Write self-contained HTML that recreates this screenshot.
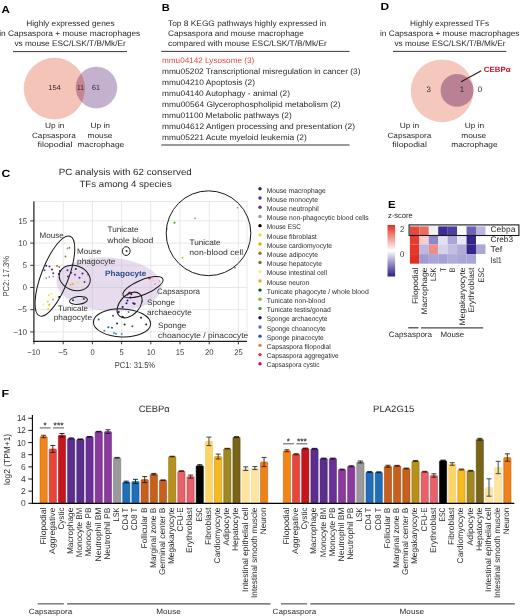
<!DOCTYPE html>
<html lang="en">
<head>
<meta charset="utf-8">
<title>Figure</title>
<style>
html,body{margin:0;padding:0;background:#fff;}
body{width:520px;height:616px;overflow:hidden;}
svg{display:block;font-family:"Liberation Sans",sans-serif;will-change:transform;text-rendering:geometricPrecision;}
</style>
</head>
<body>
<svg width="520" height="616" viewBox="0 0 520 616">
<rect width="520" height="616" fill="#fff"/>
<text x="1.5" y="12.6" font-size="10.3" textLength="8.3" lengthAdjust="spacingAndGlyphs" font-weight="bold" fill="#000">A</text>
<text x="161.7" y="10.8" font-size="10.3" textLength="8" lengthAdjust="spacingAndGlyphs" font-weight="bold" fill="#000">B</text>
<text x="380.4" y="9.8" font-size="10.3" textLength="8.6" lengthAdjust="spacingAndGlyphs" font-weight="bold" fill="#000">D</text>
<text x="1.6" y="177.1" font-size="10.3" textLength="8.7" lengthAdjust="spacingAndGlyphs" font-weight="bold" fill="#000">C</text>
<text x="388.0" y="207.6" font-size="10.3" textLength="7.6" lengthAdjust="spacingAndGlyphs" font-weight="bold" fill="#000">E</text>
<text x="1.5" y="396.6" font-size="10.3" textLength="7.6" lengthAdjust="spacingAndGlyphs" font-weight="bold" fill="#000">F</text>
<text x="70.4" y="26.2" font-size="8" text-anchor="middle" textLength="88.3" lengthAdjust="spacingAndGlyphs" fill="#2b2728">Highly expressed genes</text>
<text x="69.7" y="35.9" font-size="8" text-anchor="middle" textLength="141" lengthAdjust="spacingAndGlyphs" fill="#2b2728">in Capsaspora + mouse macrophages</text>
<text x="70.1" y="46.2" font-size="8" text-anchor="middle" textLength="111.3" lengthAdjust="spacingAndGlyphs" fill="#2b2728">vs mouse ESC/LSK/T/B/Mk/Er</text>
<line x1="13" y1="51.6" x2="127" y2="51.6" stroke="#231f20" stroke-width="0.9"/>
<circle cx="54.5" cy="88.6" r="30.5" fill="#f4c4b9" stroke="#efb7ab" stroke-width="0.5"/>
<circle cx="96.4" cy="87.5" r="20.5" fill="#c4b0cf" stroke="#b9a3c6" stroke-width="0.5"/>
<clipPath id="cA"><circle cx="54.5" cy="88.6" r="30.5"/></clipPath>
<circle cx="96.4" cy="87.5" r="20.5" fill="#c68592" clip-path="url(#cA)"/>
<text x="54.5" y="89.6" font-size="7.4" text-anchor="middle" textLength="12.5" lengthAdjust="spacingAndGlyphs" fill="#2b2728">154</text>
<text x="80.4" y="89.6" font-size="7.4" text-anchor="middle" textLength="6.9" lengthAdjust="spacingAndGlyphs" fill="#2b2728">11</text>
<text x="96" y="89.6" font-size="7.4" text-anchor="middle" textLength="8" lengthAdjust="spacingAndGlyphs" fill="#2b2728">61</text>
<text x="54.75" y="128" font-size="7.6" text-anchor="middle" textLength="19.5" lengthAdjust="spacingAndGlyphs" fill="#2b2728">Up in</text>
<text x="53.9" y="138.1" font-size="7.6" text-anchor="middle" textLength="43.75" lengthAdjust="spacingAndGlyphs" fill="#2b2728">Capsaspora</text>
<text x="55" y="147.2" font-size="7.6" text-anchor="middle" textLength="35" lengthAdjust="spacingAndGlyphs" fill="#2b2728">filopodial</text>
<text x="100.25" y="128" font-size="7.6" text-anchor="middle" textLength="19.5" lengthAdjust="spacingAndGlyphs" fill="#2b2728">Up in</text>
<text x="100" y="138.1" font-size="7.6" text-anchor="middle" textLength="25" lengthAdjust="spacingAndGlyphs" fill="#2b2728">mouse</text>
<text x="100.9" y="147.2" font-size="7.6" text-anchor="middle" textLength="46.75" lengthAdjust="spacingAndGlyphs" fill="#2b2728">macrophage</text>
<text x="168" y="25.75" font-size="8" textLength="158.25" lengthAdjust="spacingAndGlyphs" fill="#2b2728">Top 8 KEGG pathways highly expressed in</text>
<text x="168" y="35.75" font-size="8" textLength="135.75" lengthAdjust="spacingAndGlyphs" fill="#2b2728">Capsaspora and mouse macrophage</text>
<text x="168" y="46" font-size="8" textLength="158.75" lengthAdjust="spacingAndGlyphs" fill="#2b2728">compared with mouse ESC/LSK/T/B/Mk/Er</text>
<line x1="161.25" y1="51.4" x2="349.5" y2="51.4" stroke="#231f20" stroke-width="0.9"/>
<text x="162" y="63.0" font-size="8" textLength="92.25" lengthAdjust="spacingAndGlyphs" fill="#e8483a">mmu04142 Lysosome (3)</text>
<text x="162" y="74.07" font-size="8" textLength="198.5" lengthAdjust="spacingAndGlyphs" fill="#2b2728">mmu05202 Transcriptional misregulation in cancer (3)</text>
<text x="162" y="85.14" font-size="8" textLength="93" lengthAdjust="spacingAndGlyphs" fill="#2b2728">mmu04210 Apoptosis (2)</text>
<text x="162" y="96.21" font-size="8" textLength="128" lengthAdjust="spacingAndGlyphs" fill="#2b2728">mmu04140 Autophagy - animal (2)</text>
<text x="162" y="107.28" font-size="8" textLength="178.5" lengthAdjust="spacingAndGlyphs" fill="#2b2728">mmu00564 Glycerophospholipid metabolism (2)</text>
<text x="162" y="118.35" font-size="8" textLength="129.75" lengthAdjust="spacingAndGlyphs" fill="#2b2728">mmu01100 Metabolic pathways (2)</text>
<text x="162" y="129.42" font-size="8" textLength="193" lengthAdjust="spacingAndGlyphs" fill="#2b2728">mmu04612 Antigen processing and presentation (2)</text>
<text x="162" y="140.49" font-size="8" textLength="144.75" lengthAdjust="spacingAndGlyphs" fill="#2b2728">mmu05221 Acute myeloid leukemia (2)</text>
<line x1="161.25" y1="145" x2="349.5" y2="145" stroke="#231f20" stroke-width="0.9"/>
<text x="449.6" y="25.75" font-size="8" text-anchor="middle" textLength="79.25" lengthAdjust="spacingAndGlyphs" fill="#2b2728">Highly expressed TFs</text>
<text x="449.75" y="35.75" font-size="8" text-anchor="middle" textLength="139.5" lengthAdjust="spacingAndGlyphs" fill="#2b2728">in Capsaspora + mouse macrophages</text>
<text x="450" y="46" font-size="8" text-anchor="middle" textLength="111" lengthAdjust="spacingAndGlyphs" fill="#2b2728">vs mouse ESC/LSK/T/B/Mk/Er</text>
<line x1="393" y1="51.4" x2="506.25" y2="51.4" stroke="#231f20" stroke-width="0.9"/>
<circle cx="442.2" cy="90.8" r="31.4" fill="#f5c8be"/>
<circle cx="457" cy="90.4" r="16.4" fill="#ba8194"/>
<line x1="461.1" y1="81.8" x2="481.25" y2="70.7" stroke="#231f20" stroke-width="1.1"/>
<text x="483.75" y="71.9" font-size="7.6" textLength="26.75" lengthAdjust="spacingAndGlyphs" font-weight="bold" fill="#c8102e">CEBPα</text>
<text x="428.75" y="92.2" font-size="7.9" text-anchor="middle" fill="#2b2728">3</text>
<text x="461.9" y="92.2" font-size="7.9" text-anchor="middle" fill="#2b2728">1</text>
<text x="480" y="92.2" font-size="7.9" text-anchor="middle" fill="#2b2728">0</text>
<text x="409.4" y="128" font-size="7.6" text-anchor="middle" textLength="19.5" lengthAdjust="spacingAndGlyphs" fill="#2b2728">Up in</text>
<text x="409.4" y="138.1" font-size="7.6" text-anchor="middle" textLength="43.75" lengthAdjust="spacingAndGlyphs" fill="#2b2728">Capsaspora</text>
<text x="409.6" y="147.4" font-size="7.6" text-anchor="middle" textLength="34.5" lengthAdjust="spacingAndGlyphs" fill="#2b2728">filopodial</text>
<text x="474.4" y="128" font-size="7.6" text-anchor="middle" textLength="19.5" lengthAdjust="spacingAndGlyphs" fill="#2b2728">Up in</text>
<text x="473.75" y="138.1" font-size="7.6" text-anchor="middle" textLength="25" lengthAdjust="spacingAndGlyphs" fill="#2b2728">mouse</text>
<text x="474.4" y="147.4" font-size="7.6" text-anchor="middle" textLength="46.25" lengthAdjust="spacingAndGlyphs" fill="#2b2728">macrophage</text>
<text x="125.25" y="174.5" font-size="9" text-anchor="middle" textLength="133" lengthAdjust="spacingAndGlyphs" fill="#2b2728">PC analysis with 62 conserved</text>
<text x="125.6" y="186.5" font-size="9" text-anchor="middle" textLength="92.25" lengthAdjust="spacingAndGlyphs" fill="#2b2728">TFs among 4 species</text>
<rect x="33.9" y="201.5" width="213.1" height="139.8" fill="#fff" stroke="#dedede" stroke-width="0.7"/>
<line x1="63.2" y1="201.5" x2="63.2" y2="341.3" stroke="#dedede" stroke-width="0.7"/>
<line x1="92.4" y1="201.5" x2="92.4" y2="341.3" stroke="#dedede" stroke-width="0.7"/>
<line x1="121.6" y1="201.5" x2="121.6" y2="341.3" stroke="#dedede" stroke-width="0.7"/>
<line x1="150.8" y1="201.5" x2="150.8" y2="341.3" stroke="#dedede" stroke-width="0.7"/>
<line x1="180.0" y1="201.5" x2="180.0" y2="341.3" stroke="#dedede" stroke-width="0.7"/>
<line x1="209.2" y1="201.5" x2="209.2" y2="341.3" stroke="#dedede" stroke-width="0.7"/>
<line x1="238.4" y1="201.5" x2="238.4" y2="341.3" stroke="#dedede" stroke-width="0.7"/>
<line x1="33.9" y1="331.9" x2="247.0" y2="331.9" stroke="#dedede" stroke-width="0.7"/>
<line x1="33.9" y1="309.7" x2="247.0" y2="309.7" stroke="#dedede" stroke-width="0.7"/>
<line x1="33.9" y1="287.5" x2="247.0" y2="287.5" stroke="#dedede" stroke-width="0.7"/>
<line x1="33.9" y1="265.3" x2="247.0" y2="265.3" stroke="#dedede" stroke-width="0.7"/>
<line x1="33.9" y1="243.1" x2="247.0" y2="243.1" stroke="#dedede" stroke-width="0.7"/>
<line x1="33.9" y1="220.9" x2="247.0" y2="220.9" stroke="#dedede" stroke-width="0.7"/>
<ellipse cx="109" cy="284.2" rx="52.6" ry="26.8" fill="#c9b0da" opacity="0.45" transform="rotate(3.5 109 284.2)"/>
<line x1="33.9" y1="201.5" x2="33.9" y2="341.90000000000003" stroke="#231f20" stroke-width="1.2"/>
<line x1="33.3" y1="341.3" x2="247.0" y2="341.3" stroke="#231f20" stroke-width="1.2"/>
<line x1="34.0" y1="341.3" x2="34.0" y2="344.3" stroke="#231f20" stroke-width="0.9"/>
<text x="33.7" y="354.5" font-size="8.2" text-anchor="middle" textLength="12.8" lengthAdjust="spacingAndGlyphs" fill="#3a3a3a">−10</text>
<line x1="63.2" y1="341.3" x2="63.2" y2="344.3" stroke="#231f20" stroke-width="0.9"/>
<text x="62.900000000000006" y="354.5" font-size="8.2" text-anchor="middle" textLength="9.5" lengthAdjust="spacingAndGlyphs" fill="#3a3a3a">−5</text>
<line x1="92.4" y1="341.3" x2="92.4" y2="344.3" stroke="#231f20" stroke-width="0.9"/>
<text x="92.5" y="354.5" font-size="8.2" text-anchor="middle" textLength="4.2" lengthAdjust="spacingAndGlyphs" fill="#3a3a3a">0</text>
<line x1="121.6" y1="341.3" x2="121.6" y2="344.3" stroke="#231f20" stroke-width="0.9"/>
<text x="121.69999999999999" y="354.5" font-size="8.2" text-anchor="middle" textLength="4.2" lengthAdjust="spacingAndGlyphs" fill="#3a3a3a">5</text>
<line x1="150.8" y1="341.3" x2="150.8" y2="344.3" stroke="#231f20" stroke-width="0.9"/>
<text x="150.9" y="354.5" font-size="8.2" text-anchor="middle" textLength="8.5" lengthAdjust="spacingAndGlyphs" fill="#3a3a3a">10</text>
<line x1="180.0" y1="341.3" x2="180.0" y2="344.3" stroke="#231f20" stroke-width="0.9"/>
<text x="180.1" y="354.5" font-size="8.2" text-anchor="middle" textLength="8.5" lengthAdjust="spacingAndGlyphs" fill="#3a3a3a">15</text>
<line x1="209.2" y1="341.3" x2="209.2" y2="344.3" stroke="#231f20" stroke-width="0.9"/>
<text x="209.29999999999998" y="354.5" font-size="8.2" text-anchor="middle" textLength="8.5" lengthAdjust="spacingAndGlyphs" fill="#3a3a3a">20</text>
<line x1="238.4" y1="341.3" x2="238.4" y2="344.3" stroke="#231f20" stroke-width="0.9"/>
<text x="238.5" y="354.5" font-size="8.2" text-anchor="middle" textLength="8.5" lengthAdjust="spacingAndGlyphs" fill="#3a3a3a">25</text>
<line x1="30.2" y1="331.9" x2="33.9" y2="331.9" stroke="#231f20" stroke-width="0.9"/>
<text x="27" y="334.5" font-size="8.2" text-anchor="end" textLength="13.8" lengthAdjust="spacingAndGlyphs" fill="#3a3a3a">−10</text>
<line x1="30.2" y1="309.7" x2="33.9" y2="309.7" stroke="#231f20" stroke-width="0.9"/>
<text x="27" y="312.3" font-size="8.2" text-anchor="end" textLength="9.5" lengthAdjust="spacingAndGlyphs" fill="#3a3a3a">−5</text>
<line x1="30.2" y1="287.5" x2="33.9" y2="287.5" stroke="#231f20" stroke-width="0.9"/>
<text x="27" y="290.1" font-size="8.2" text-anchor="end" textLength="4.2" lengthAdjust="spacingAndGlyphs" fill="#3a3a3a">0</text>
<line x1="30.2" y1="265.3" x2="33.9" y2="265.3" stroke="#231f20" stroke-width="0.9"/>
<text x="27" y="267.90000000000003" font-size="8.2" text-anchor="end" textLength="4.2" lengthAdjust="spacingAndGlyphs" fill="#3a3a3a">5</text>
<line x1="30.2" y1="243.1" x2="33.9" y2="243.1" stroke="#231f20" stroke-width="0.9"/>
<text x="27" y="245.7" font-size="8.2" text-anchor="end" textLength="8.5" lengthAdjust="spacingAndGlyphs" fill="#3a3a3a">10</text>
<line x1="30.2" y1="220.9" x2="33.9" y2="220.9" stroke="#231f20" stroke-width="0.9"/>
<text x="27" y="223.5" font-size="8.2" text-anchor="end" textLength="8.5" lengthAdjust="spacingAndGlyphs" fill="#3a3a3a">15</text>
<text x="114.8" y="367.5" font-size="8.7" textLength="40.3" lengthAdjust="spacingAndGlyphs" fill="#3a3a3a">PC1: 31.5%</text>
<text x="9.4" y="276.25" font-size="8.7" text-anchor="middle" textLength="40.5" lengthAdjust="spacingAndGlyphs" fill="#3a3a3a" transform="rotate(-90 9.4 276.25)">PC2: 17.3%</text>
<circle cx="174.5" cy="222.75" r="1.08" fill="#4aa02c"/>
<circle cx="195" cy="218.25" r="0.99" fill="#a8b468"/>
<circle cx="166.75" cy="229" r="0.81" fill="#6b6b2a"/>
<circle cx="182.5" cy="257.75" r="0.99" fill="#b8c020"/>
<circle cx="237.5" cy="207.75" r="0.81" fill="#8a8a6a"/>
<circle cx="235" cy="267.75" r="0.9" fill="#8a8a5a"/>
<circle cx="67.5" cy="248.5" r="0.9" fill="#999"/>
<circle cx="69.5" cy="247.75" r="0.9" fill="#a07818"/>
<circle cx="65.5" cy="256.5" r="0.9" fill="#787828"/>
<circle cx="46.25" cy="265.75" r="0.99" fill="#3b1a6e"/>
<circle cx="49.5" cy="266.5" r="0.99" fill="#5a2a8a"/>
<circle cx="44.5" cy="270.25" r="0.99" fill="#6a2a9a"/>
<circle cx="52" cy="269.5" r="0.99" fill="#3b1a6e"/>
<circle cx="53.25" cy="273.25" r="0.99" fill="#5a2a8a"/>
<circle cx="49.25" cy="277" r="0.9" fill="#999"/>
<circle cx="53.25" cy="276.5" r="0.9" fill="#999"/>
<circle cx="46.25" cy="278.25" r="0.9" fill="#999"/>
<circle cx="57" cy="266" r="0.9" fill="#787828"/>
<circle cx="59.25" cy="267" r="0.9" fill="#a07818"/>
<circle cx="60" cy="271" r="0.99" fill="#1a1a60"/>
<circle cx="58.75" cy="274" r="0.9" fill="#3b1a6e"/>
<circle cx="67.5" cy="270.25" r="0.99" fill="#5a2a8a"/>
<circle cx="71.25" cy="272.75" r="0.99" fill="#6a2a9a"/>
<circle cx="75.75" cy="269" r="0.99" fill="#3b1a6e"/>
<circle cx="68" cy="276.5" r="0.99" fill="#5a2a8a"/>
<circle cx="75" cy="274.75" r="0.99" fill="#6a2a9a"/>
<circle cx="82.5" cy="273.5" r="0.99" fill="#3b1a6e"/>
<circle cx="79.5" cy="277.75" r="0.99" fill="#5a2a8a"/>
<circle cx="84.5" cy="282" r="0.99" fill="#6a2a9a"/>
<circle cx="88" cy="274.5" r="0.9" fill="#8a5ab0"/>
<circle cx="70.75" cy="284.5" r="0.99" fill="#f0a820"/>
<circle cx="73" cy="284" r="0.99" fill="#f0a820"/>
<circle cx="77.5" cy="282.75" r="0.99" fill="#f0e020"/>
<circle cx="81.25" cy="285.25" r="0.99" fill="#fbe890"/>
<circle cx="48.75" cy="295.25" r="0.99" fill="#f0e020"/>
<circle cx="51.25" cy="294" r="0.99" fill="#fbe890"/>
<circle cx="53" cy="299.5" r="0.99" fill="#e0b000"/>
<circle cx="47.5" cy="301.5" r="0.99" fill="#f0e020"/>
<circle cx="49.3" cy="304.7" r="0.99" fill="#e0b000"/>
<circle cx="43.3" cy="304.7" r="0.99" fill="#fbe890"/>
<circle cx="48.1" cy="309" r="0.99" fill="#f0e020"/>
<circle cx="59.25" cy="297" r="0.99" fill="#000"/>
<circle cx="73" cy="300.25" r="0.99" fill="#1a4a1a"/>
<circle cx="83.75" cy="299" r="0.99" fill="#1a4a1a"/>
<circle cx="126.6" cy="251.1" r="0.99" fill="#1a4a1a"/>
<circle cx="149.5" cy="278.25" r="1.17" fill="#e8303a"/>
<circle cx="155" cy="284" r="0.99" fill="#f4a0b0"/>
<circle cx="159.5" cy="281" r="0.99" fill="#f4a0b0"/>
<circle cx="152.5" cy="280.25" r="0.9" fill="#f8c0c8"/>
<circle cx="129.4" cy="292.7" r="1.17" fill="#c01840"/>
<circle cx="131.3" cy="294.2" r="1.08" fill="#3b1a6e"/>
<circle cx="127.5" cy="294.6" r="0.99" fill="#5a2a8a"/>
<circle cx="130.4" cy="297.5" r="0.99" fill="#1a1a60"/>
<circle cx="127.5" cy="300.4" r="0.99" fill="#1a1a60"/>
<circle cx="133.3" cy="303.3" r="1.08" fill="#3b1a6e"/>
<circle cx="134.6" cy="303.8" r="1.08" fill="#3b1a6e"/>
<circle cx="126.5" cy="303.3" r="0.99" fill="#1a1a60"/>
<circle cx="122.7" cy="307.1" r="0.99" fill="#1a1a60"/>
<circle cx="142" cy="301.3" r="0.9" fill="#4a7ab0"/>
<circle cx="128.5" cy="312" r="0.9" fill="#4a7ab0"/>
<circle cx="122.7" cy="316.7" r="0.99" fill="#1a1a60"/>
<circle cx="118.8" cy="312" r="0.99" fill="#1a1a60"/>
<circle cx="98.7" cy="319.6" r="0.99" fill="#2a5aa8"/>
<circle cx="113" cy="315.8" r="0.99" fill="#2a5aa8"/>
<circle cx="117" cy="323.5" r="0.99" fill="#1a1a60"/>
<circle cx="124.6" cy="324.4" r="0.99" fill="#1a1a60"/>
<circle cx="132.3" cy="326.3" r="0.99" fill="#2a5aa8"/>
<circle cx="141" cy="317.7" r="0.99" fill="#1a1a60"/>
<circle cx="146.2" cy="324.4" r="0.99" fill="#1a1a60"/>
<circle cx="108.3" cy="327.3" r="0.99" fill="#2a5aa8"/>
<circle cx="112" cy="327.7" r="0.99" fill="#2a5aa8"/>
<circle cx="104.4" cy="330.8" r="0.99" fill="#4a90d0"/>
<circle cx="114" cy="333" r="0.99" fill="#4a90d0"/>
<circle cx="116" cy="333.7" r="0.99" fill="#4a90d0"/>
<circle cx="121.7" cy="334" r="0.99" fill="#4a90d0"/>
<ellipse cx="54.9" cy="276.1" rx="13.6" ry="42.6" fill="none" stroke="#1a1a1a" stroke-width="1.0" transform="rotate(21 54.9 276.1)"/>
<ellipse cx="74.7" cy="278" rx="15.9" ry="12.2" fill="none" stroke="#1a1a1a" stroke-width="1.0" transform="rotate(20 74.7 278)"/>
<ellipse cx="78.5" cy="300.4" rx="9" ry="3.9" fill="none" stroke="#1a1a1a" stroke-width="1.0" transform="rotate(-6 78.5 300.4)"/>
<ellipse cx="126.2" cy="251.1" rx="3.9" ry="4.4" fill="none" stroke="#1a1a1a" stroke-width="1.0" transform="rotate(0 126.2 251.1)"/>
<ellipse cx="208.5" cy="233.25" rx="42.3" ry="42.4" fill="none" stroke="#1a1a1a" stroke-width="1.0" transform="rotate(0 208.5 233.25)"/>
<ellipse cx="143" cy="287.2" rx="21.5" ry="7.3" fill="none" stroke="#1a1a1a" stroke-width="1.0" transform="rotate(-22.5 143 287.2)"/>
<ellipse cx="129.6" cy="305" rx="15" ry="9.8" fill="none" stroke="#1a1a1a" stroke-width="1.0" transform="rotate(-47 129.6 305)"/>
<ellipse cx="122" cy="322.9" rx="28.6" ry="14" fill="none" stroke="#1a1a1a" stroke-width="1.0" transform="rotate(2 122 322.9)"/>
<text x="39.5" y="237.75" font-size="7.9" textLength="24.25" lengthAdjust="spacingAndGlyphs" fill="#333">Mouse</text>
<text x="77" y="254" font-size="7.9" textLength="24.25" lengthAdjust="spacingAndGlyphs" fill="#333">Mouse</text>
<text x="77" y="263.8" font-size="7.9" textLength="38.5" lengthAdjust="spacingAndGlyphs" fill="#333">phagocyte</text>
<text x="107.5" y="232.2" font-size="7.9" textLength="31" lengthAdjust="spacingAndGlyphs" fill="#333">Tunicate</text>
<text x="107.3" y="242.6" font-size="7.9" textLength="46" lengthAdjust="spacingAndGlyphs" fill="#333">whole blood</text>
<text x="189.5" y="245.25" font-size="7.9" textLength="31" lengthAdjust="spacingAndGlyphs" fill="#333">Tunicate</text>
<text x="189.25" y="255.25" font-size="7.9" textLength="54" lengthAdjust="spacingAndGlyphs" fill="#333">non-blood cell</text>
<text x="105" y="275.5" font-size="7.8" textLength="41.25" lengthAdjust="spacingAndGlyphs" font-weight="bold" fill="#2a4a8c">Phagocyte</text>
<text x="157" y="293.5" font-size="7.9" textLength="43" lengthAdjust="spacingAndGlyphs" fill="#333">Capsaspora</text>
<text x="147" y="305" font-size="7.9" textLength="28" lengthAdjust="spacingAndGlyphs" fill="#333">Sponge</text>
<text x="147" y="315.3" font-size="7.9" textLength="44.75" lengthAdjust="spacingAndGlyphs" fill="#333">archaeocyte</text>
<text x="158" y="328" font-size="7.9" textLength="28.25" lengthAdjust="spacingAndGlyphs" fill="#333">Sponge</text>
<text x="158" y="338.25" font-size="7.9" textLength="90.25" lengthAdjust="spacingAndGlyphs" fill="#333">choanocyte / pinacocyte</text>
<text x="58" y="311.25" font-size="7.9" textLength="30" lengthAdjust="spacingAndGlyphs" fill="#333">Tunicate</text>
<text x="53.75" y="319.7" font-size="7.9" textLength="38.25" lengthAdjust="spacingAndGlyphs" fill="#333">phagocyte</text>
<circle cx="260" cy="188.8" r="1.7" fill="#3b1a6e"/>
<text x="266.75" y="192.5" font-size="6.9" textLength="59" lengthAdjust="spacingAndGlyphs" fill="#2b2728">Mouse macrophage</text>
<circle cx="260" cy="198.01" r="1.7" fill="#5a2a8a"/>
<text x="266.75" y="201.71" font-size="6.9" textLength="51.25" lengthAdjust="spacingAndGlyphs" fill="#2b2728">Mouse monocyte</text>
<circle cx="260" cy="207.22" r="1.7" fill="#6a2a9a"/>
<text x="266.75" y="210.92" font-size="6.9" textLength="52" lengthAdjust="spacingAndGlyphs" fill="#2b2728">Mouse neutrophil</text>
<circle cx="260" cy="216.43" r="1.7" fill="#9a9a9a"/>
<text x="266.75" y="220.13" font-size="6.9" textLength="102" lengthAdjust="spacingAndGlyphs" fill="#2b2728">Mouse non-phagocytic blood cells</text>
<circle cx="260" cy="225.64" r="1.7" fill="#000"/>
<text x="266.75" y="229.34" font-size="6.9" textLength="34" lengthAdjust="spacingAndGlyphs" fill="#2b2728">Mouse ESC</text>
<circle cx="260" cy="234.85" r="1.7" fill="#f0e020"/>
<text x="266.75" y="238.55" font-size="6.9" textLength="50" lengthAdjust="spacingAndGlyphs" fill="#2b2728">Mouse fibroblast</text>
<circle cx="260" cy="244.06" r="1.7" fill="#e0b000"/>
<text x="266.75" y="247.76" font-size="6.9" textLength="65.25" lengthAdjust="spacingAndGlyphs" fill="#2b2728">Mouse cardiomyocyte</text>
<circle cx="260" cy="253.27" r="1.7" fill="#a07818"/>
<text x="266.75" y="256.97" font-size="6.9" textLength="51.25" lengthAdjust="spacingAndGlyphs" fill="#2b2728">Mouse adipocyte</text>
<circle cx="260" cy="262.48" r="1.7" fill="#787828"/>
<text x="266.75" y="266.18" font-size="6.9" textLength="55.25" lengthAdjust="spacingAndGlyphs" fill="#2b2728">Mouse hepatocyte</text>
<circle cx="260" cy="271.69" r="1.7" fill="#fbe890"/>
<text x="266.75" y="275.39" font-size="6.9" textLength="60.25" lengthAdjust="spacingAndGlyphs" fill="#2b2728">Mouse intestinal cell</text>
<circle cx="260" cy="280.9" r="1.7" fill="#f0a820"/>
<text x="266.75" y="284.6" font-size="6.9" textLength="42.5" lengthAdjust="spacingAndGlyphs" fill="#2b2728">Mouse neuron</text>
<circle cx="260" cy="290.11" r="1.7" fill="#1a4a1a"/>
<text x="266.75" y="293.81" font-size="6.9" textLength="102" lengthAdjust="spacingAndGlyphs" fill="#2b2728">Tunicate phagocyte / whole blood</text>
<circle cx="260" cy="299.32" r="1.7" fill="#9ab040"/>
<text x="266.75" y="303.02" font-size="6.9" textLength="58.25" lengthAdjust="spacingAndGlyphs" fill="#2b2728">Tunicate non-blood</text>
<circle cx="260" cy="308.53" r="1.7" fill="#4aa040"/>
<text x="266.75" y="312.23" font-size="6.9" textLength="64" lengthAdjust="spacingAndGlyphs" fill="#2b2728">Tunicate testis/gonad</text>
<circle cx="260" cy="317.74" r="1.7" fill="#1a1a60"/>
<text x="266.75" y="321.44" font-size="6.9" textLength="60.75" lengthAdjust="spacingAndGlyphs" fill="#2b2728">Sponge archaeocyte</text>
<circle cx="260" cy="326.95" r="1.7" fill="#4a7ab0"/>
<text x="266.75" y="330.65" font-size="6.9" textLength="59" lengthAdjust="spacingAndGlyphs" fill="#2b2728">Sponge choanocyte</text>
<circle cx="260" cy="336.16" r="1.7" fill="#2a5aa8"/>
<text x="266.75" y="339.86" font-size="6.9" textLength="57" lengthAdjust="spacingAndGlyphs" fill="#2b2728">Sponge pinacocyte</text>
<circle cx="260" cy="345.37" r="1.7" fill="#f07838"/>
<text x="266.75" y="349.07" font-size="6.9" textLength="64" lengthAdjust="spacingAndGlyphs" fill="#2b2728">Capsaspora filopodial</text>
<circle cx="260" cy="354.58" r="1.7" fill="#e8303a"/>
<text x="266.75" y="358.28" font-size="6.9" textLength="72" lengthAdjust="spacingAndGlyphs" fill="#2b2728">Capsaspora aggregative</text>
<circle cx="260" cy="363.79" r="1.7" fill="#c01840"/>
<text x="266.75" y="367.49" font-size="6.9" textLength="52.75" lengthAdjust="spacingAndGlyphs" fill="#2b2728">Capsaspora cystic</text>
<text x="388" y="217.6" font-size="7.8" textLength="24.8" lengthAdjust="spacingAndGlyphs" fill="#2b2728">z-score</text>
<defs><linearGradient id="cb" x1="0" y1="0" x2="0" y2="1"><stop offset="0" stop-color="#e3301f"/><stop offset="0.5" stop-color="#ffffff"/><stop offset="1" stop-color="#2f1d86"/></linearGradient></defs>
<rect x="387.5" y="225" width="7.6" height="51.5" fill="url(#cb)"/>
<text x="400.1" y="232" font-size="8.4" textLength="4.3" lengthAdjust="spacingAndGlyphs" fill="#2b2728">2</text>
<text x="400.1" y="256.5" font-size="8.4" textLength="4.3" lengthAdjust="spacingAndGlyphs" fill="#2b2728">0</text>
<rect x="409.9" y="226.4" width="9.49" height="8.6" fill="#e5483f"/>
<rect x="419.34" y="226.4" width="9.49" height="8.6" fill="#ea6a60"/>
<rect x="428.78" y="226.4" width="9.49" height="8.6" fill="#f3eff6"/>
<rect x="438.22" y="226.4" width="9.49" height="8.6" fill="#3b2d93"/>
<rect x="447.66" y="226.4" width="9.49" height="8.6" fill="#4c3fa0"/>
<rect x="457.1" y="226.4" width="9.49" height="8.6" fill="#fbfafd"/>
<rect x="466.54" y="226.4" width="9.49" height="8.6" fill="#6d63b5"/>
<rect x="475.98" y="226.4" width="9.49" height="8.6" fill="#bbb6dd"/>
<rect x="409.9" y="235.7" width="9.49" height="8.7" fill="#e43b33"/>
<rect x="419.34" y="235.7" width="9.49" height="8.7" fill="#f5cfd0"/>
<rect x="428.78" y="235.7" width="9.49" height="8.7" fill="#8b87c8"/>
<rect x="438.22" y="235.7" width="9.49" height="8.7" fill="#e3e1f1"/>
<rect x="447.66" y="235.7" width="9.49" height="8.7" fill="#a9a5d8"/>
<rect x="457.1" y="235.7" width="9.49" height="8.7" fill="#e9e7f4"/>
<rect x="466.54" y="235.7" width="9.49" height="8.7" fill="#35258a"/>
<rect x="475.98" y="235.7" width="9.49" height="8.7" fill="#ffffff"/>
<rect x="409.9" y="244.4" width="9.49" height="9.7" fill="#e3362d"/>
<rect x="419.34" y="244.4" width="9.49" height="9.7" fill="#bcb8e0"/>
<rect x="428.78" y="244.4" width="9.49" height="9.7" fill="#ef8d88"/>
<rect x="438.22" y="244.4" width="9.49" height="9.7" fill="#d5d2eb"/>
<rect x="447.66" y="244.4" width="9.49" height="9.7" fill="#c2bee2"/>
<rect x="457.1" y="244.4" width="9.49" height="9.7" fill="#b0abd9"/>
<rect x="466.54" y="244.4" width="9.49" height="9.7" fill="#35258a"/>
<rect x="475.98" y="244.4" width="9.49" height="9.7" fill="#aaa6d8"/>
<rect x="409.9" y="254.1" width="9.49" height="9.6" fill="#e2301f"/>
<rect x="419.34" y="254.1" width="9.49" height="9.6" fill="#a09bd3"/>
<rect x="428.78" y="254.1" width="9.49" height="9.6" fill="#a9a5d8"/>
<rect x="438.22" y="254.1" width="9.49" height="9.6" fill="#a5a1d6"/>
<rect x="447.66" y="254.1" width="9.49" height="9.6" fill="#b0acd9"/>
<rect x="457.1" y="254.1" width="9.49" height="9.6" fill="#a9a5d8"/>
<rect x="466.54" y="254.1" width="9.49" height="9.6" fill="#a9a5d8"/>
<rect x="475.98" y="254.1" width="9.49" height="9.6" fill="#ffffff"/>
<rect x="409.1" y="224.9" width="109.8" height="10.6" fill="none" stroke="#1a1a1a" stroke-width="1.1"/>
<text x="490.5" y="232.4" font-size="8.2" textLength="25" lengthAdjust="spacingAndGlyphs" fill="#2b2728">Cebpa</text>
<text x="490.5" y="242.4" font-size="8.2" textLength="22.6" lengthAdjust="spacingAndGlyphs" fill="#2b2728">Creb3</text>
<text x="490.5" y="252.1" font-size="8.2" textLength="11.7" lengthAdjust="spacingAndGlyphs" fill="#2b2728">Tef</text>
<text x="490.5" y="262.8" font-size="8.2" textLength="11.3" lengthAdjust="spacingAndGlyphs" fill="#2b2728">Isl1</text>
<text x="417.52" y="267.6" font-size="8.1" text-anchor="end" textLength="36.5" lengthAdjust="spacingAndGlyphs" fill="#2b2728" transform="rotate(-90 417.52 267.6)">Filopodial</text>
<text x="426.96" y="267.6" font-size="8.1" text-anchor="end" textLength="47" lengthAdjust="spacingAndGlyphs" fill="#2b2728" transform="rotate(-90 426.96 267.6)">Macrophage</text>
<text x="436.4" y="267.6" font-size="8.1" text-anchor="end" textLength="13.5" lengthAdjust="spacingAndGlyphs" fill="#2b2728" transform="rotate(-90 436.4 267.6)">LSK</text>
<text x="445.84" y="267.6" font-size="8.1" text-anchor="end" textLength="4.2" lengthAdjust="spacingAndGlyphs" fill="#2b2728" transform="rotate(-90 445.84 267.6)">T</text>
<text x="455.28" y="267.6" font-size="8.1" text-anchor="end" textLength="4.7" lengthAdjust="spacingAndGlyphs" fill="#2b2728" transform="rotate(-90 455.28 267.6)">B</text>
<text x="464.72" y="267.6" font-size="8.1" text-anchor="end" textLength="57.8" lengthAdjust="spacingAndGlyphs" fill="#2b2728" transform="rotate(-90 464.72 267.6)">Megakaryocyte</text>
<text x="474.16" y="267.6" font-size="8.1" text-anchor="end" textLength="45" lengthAdjust="spacingAndGlyphs" fill="#2b2728" transform="rotate(-90 474.16 267.6)">Erythroblast</text>
<text x="483.6" y="267.6" font-size="8.1" text-anchor="end" textLength="14.8" lengthAdjust="spacingAndGlyphs" fill="#2b2728" transform="rotate(-90 483.6 267.6)">ESC</text>
<line x1="408.2" y1="327.8" x2="418.5" y2="327.8" stroke="#4a4a4a" stroke-width="1.3"/>
<line x1="421" y1="327.8" x2="483.2" y2="327.8" stroke="#4a4a4a" stroke-width="1.3"/>
<text x="388.8" y="336.6" font-size="7.8" textLength="43.2" lengthAdjust="spacingAndGlyphs" fill="#2b2728">Capsaspora</text>
<text x="440.5" y="336.6" font-size="7.8" textLength="23.7" lengthAdjust="spacingAndGlyphs" fill="#2b2728">Mouse</text>
<path d="M40.0 503.3V437.48q0 -1 1 -1h5.25q1 0 1 1V503.3z" fill="#f28518" stroke="#ae5f11" stroke-width="0.5"/>
<path d="M43.62 435.27V437.69M41.12 435.27h5M41.12 437.69h5" stroke="#3c2106" stroke-width="0.9" fill="none"/>
<text x="45.52" y="507.6" font-size="8.3" text-anchor="end" textLength="36.8" lengthAdjust="spacingAndGlyphs" fill="#2b2728" transform="rotate(-90 45.52 507.6)">Filopodial</text>
<path d="M49.19 503.3V449.93q0 -1 1 -1h5.25q1 0 1 1V503.3z" fill="#e8463c" stroke="#a7322b" stroke-width="0.5"/>
<path d="M52.81 445.47V452.39M50.31 445.47h5M50.31 452.39h5" stroke="#3a110f" stroke-width="0.9" fill="none"/>
<text x="54.71" y="507.6" font-size="8.3" text-anchor="end" textLength="46.3" lengthAdjust="spacingAndGlyphs" fill="#2b2728" transform="rotate(-90 54.71 507.6)">Aggregative</text>
<path d="M58.37 503.3V436.26q0 -1 1 -1h5.25q1 0 1 1V503.3z" fill="#c4161c" stroke="#8d0f14" stroke-width="0.5"/>
<path d="M61.99 433.44V437.08M59.49 433.44h5M59.49 437.08h5" stroke="#310507" stroke-width="0.9" fill="none"/>
<text x="63.89" y="507.6" font-size="8.3" text-anchor="end" textLength="21.8" lengthAdjust="spacingAndGlyphs" fill="#2b2728" transform="rotate(-90 63.89 507.6)">Cystic</text>
<path d="M67.56 503.3V439.42q0 -1 1 -1h5.25q1 0 1 1V503.3z" fill="#5b2d8e" stroke="#412066" stroke-width="0.5"/>
<path d="M71.19 437.93V438.91M68.69 437.93h5M68.69 438.91h5" stroke="#160b23" stroke-width="0.9" fill="none"/>
<text x="73.09" y="507.6" font-size="8.3" text-anchor="end" textLength="46.5" lengthAdjust="spacingAndGlyphs" fill="#2b2728" transform="rotate(-90 73.09 507.6)">Macrophage</text>
<path d="M76.74 503.3V440.27q0 -1 1 -1h5.25q1 0 1 1V503.3z" fill="#5b2d8e" stroke="#412066" stroke-width="0.5"/>
<path d="M80.36 438.97V439.57M77.86 438.97h5M77.86 439.57h5" stroke="#160b23" stroke-width="0.9" fill="none"/>
<text x="82.26" y="507.6" font-size="8.3" text-anchor="end" textLength="49.7" lengthAdjust="spacingAndGlyphs" fill="#2b2728" transform="rotate(-90 82.26 507.6)">Monocyte BM</text>
<path d="M85.93 503.3V437.78q0 -1 1 -1h5.25q1 0 1 1V503.3z" fill="#6a3098" stroke="#4c226d" stroke-width="0.5"/>
<path d="M89.56 436.48V437.08M87.06 436.48h5M87.06 437.08h5" stroke="#1a0c26" stroke-width="0.9" fill="none"/>
<text x="91.46" y="507.6" font-size="8.3" text-anchor="end" textLength="48.9" lengthAdjust="spacingAndGlyphs" fill="#2b2728" transform="rotate(-90 91.46 507.6)">Monocyte PB</text>
<path d="M95.11 503.3V432.62q0 -1 1 -1h5.25q1 0 1 1V503.3z" fill="#8a3a9c" stroke="#632970" stroke-width="0.5"/>
<path d="M98.73 431.32V431.92M96.23 431.32h5M96.23 431.92h5" stroke="#220e27" stroke-width="0.9" fill="none"/>
<text x="100.63" y="507.6" font-size="8.3" text-anchor="end" textLength="53.8" lengthAdjust="spacingAndGlyphs" fill="#2b2728" transform="rotate(-90 100.63 507.6)">Neutrophil BM</text>
<path d="M104.3 503.3V432.62q0 -1 1 -1h5.25q1 0 1 1V503.3z" fill="#8a3a9c" stroke="#632970" stroke-width="0.5"/>
<path d="M107.92 429.8V433.44M105.42 429.8h5M105.42 433.44h5" stroke="#220e27" stroke-width="0.9" fill="none"/>
<text x="109.82" y="507.6" font-size="8.3" text-anchor="end" textLength="52.2" lengthAdjust="spacingAndGlyphs" fill="#2b2728" transform="rotate(-90 109.82 507.6)">Neutrophil PB</text>
<path d="M113.48 503.3V458.74q0 -1 1 -1h5.25q1 0 1 1V503.3z" fill="#9a9a9a" stroke="#6e6e6e" stroke-width="0.5"/>
<path d="M117.11 457.38V458.1M114.61 457.38h5M114.61 458.1h5" stroke="#262626" stroke-width="0.9" fill="none"/>
<text x="119.01" y="507.6" font-size="8.3" text-anchor="end" textLength="13.8" lengthAdjust="spacingAndGlyphs" fill="#2b2728" transform="rotate(-90 119.01 507.6)">LSK</text>
<path d="M122.67 503.3V483.04q0 -1 1 -1h5.25q1 0 1 1V503.3z" fill="#1f6fb8" stroke="#164f84" stroke-width="0.5"/>
<path d="M126.3 481.13V482.95M123.8 481.13h5M123.8 482.95h5" stroke="#071b2e" stroke-width="0.9" fill="none"/>
<text x="128.2" y="507.6" font-size="8.3" text-anchor="end" textLength="22.6" lengthAdjust="spacingAndGlyphs" fill="#2b2728" transform="rotate(-90 128.2 507.6)">CD4 T</text>
<path d="M131.85 503.3V482.43q0 -1 1 -1h5.25q1 0 1 1V503.3z" fill="#1f6fb8" stroke="#164f84" stroke-width="0.5"/>
<path d="M135.47 479.3V483.56M132.97 479.3h5M132.97 483.56h5" stroke="#071b2e" stroke-width="0.9" fill="none"/>
<text x="137.37" y="507.6" font-size="8.3" text-anchor="end" textLength="22.6" lengthAdjust="spacingAndGlyphs" fill="#2b2728" transform="rotate(-90 137.37 507.6)">CD8 T</text>
<path d="M141.04 503.3V480.61q0 -1 1 -1h5.25q1 0 1 1V503.3z" fill="#c8601c" stroke="#904514" stroke-width="0.5"/>
<path d="M144.66 476.57V482.65M142.16 476.57h5M142.16 482.65h5" stroke="#321807" stroke-width="0.9" fill="none"/>
<text x="146.56" y="507.6" font-size="8.3" text-anchor="end" textLength="40.8" lengthAdjust="spacingAndGlyphs" fill="#2b2728" transform="rotate(-90 146.56 507.6)">Follicular B</text>
<path d="M150.22 503.3V475.14q0 -1 1 -1h5.25q1 0 1 1V503.3z" fill="#c8601c" stroke="#904514" stroke-width="0.5"/>
<path d="M153.84 473.41V474.87M151.34 473.41h5M151.34 474.87h5" stroke="#321807" stroke-width="0.9" fill="none"/>
<text x="155.74" y="507.6" font-size="8.3" text-anchor="end" textLength="60.3" lengthAdjust="spacingAndGlyphs" fill="#2b2728" transform="rotate(-90 155.74 507.6)">Marginal zone B</text>
<path d="M159.41 503.3V481.22q0 -1 1 -1h5.25q1 0 1 1V503.3z" fill="#c8601c" stroke="#904514" stroke-width="0.5"/>
<path d="M163.03 479.92V480.52M160.53 479.92h5M160.53 480.52h5" stroke="#321807" stroke-width="0.9" fill="none"/>
<text x="164.93" y="507.6" font-size="8.3" text-anchor="end" textLength="67.3" lengthAdjust="spacingAndGlyphs" fill="#2b2728" transform="rotate(-90 164.93 507.6)">Germinal center B</text>
<path d="M168.59 503.3V457.52q0 -1 1 -1h5.25q1 0 1 1V503.3z" fill="#b8901c" stroke="#846714" stroke-width="0.5"/>
<path d="M172.22 456.22V456.82M169.72 456.22h5M169.72 456.82h5" stroke="#2e2407" stroke-width="0.9" fill="none"/>
<text x="174.12" y="507.6" font-size="8.3" text-anchor="end" textLength="56.5" lengthAdjust="spacingAndGlyphs" fill="#2b2728" transform="rotate(-90 174.12 507.6)">Megakaryocyte</text>
<path d="M177.78 503.3V472.1q0 -1 1 -1h5.25q1 0 1 1V503.3z" fill="#e8606a" stroke="#a7454c" stroke-width="0.5"/>
<path d="M181.41 470.8V471.4M178.91 470.8h5M178.91 471.4h5" stroke="#3a181a" stroke-width="0.9" fill="none"/>
<text x="183.31" y="507.6" font-size="8.3" text-anchor="end" textLength="23.9" lengthAdjust="spacingAndGlyphs" fill="#2b2728" transform="rotate(-90 183.31 507.6)">CFU-E</text>
<path d="M186.96 503.3V477.57q0 -1 1 -1h5.25q1 0 1 1V503.3z" fill="#e8606a" stroke="#a7454c" stroke-width="0.5"/>
<path d="M190.59 475.05V478.09M188.09 475.05h5M188.09 478.09h5" stroke="#3a181a" stroke-width="0.9" fill="none"/>
<text x="192.49" y="507.6" font-size="8.3" text-anchor="end" textLength="45.3" lengthAdjust="spacingAndGlyphs" fill="#2b2728" transform="rotate(-90 192.49 507.6)">Erythroblast</text>
<path d="M196.15 503.3V466.63q0 -1 1 -1h5.25q1 0 1 1V503.3z" fill="#000000" stroke="#000000" stroke-width="0.5"/>
<path d="M199.78 464.72V466.54M197.28 464.72h5M197.28 466.54h5" stroke="#000" stroke-width="0.9" fill="none"/>
<text x="201.68" y="507.6" font-size="8.3" text-anchor="end" textLength="13.9" lengthAdjust="spacingAndGlyphs" fill="#2b2728" transform="rotate(-90 201.68 507.6)">ESC</text>
<path d="M205.33 503.3V442.34q0 -1 1 -1h5.25q1 0 1 1V503.3z" fill="#fcd56a" stroke="#efca64" stroke-width="0.5"/>
<path d="M208.96 437.09V445.59M206.46 437.09h5M206.46 445.59h5" stroke="#3f351a" stroke-width="0.9" fill="none"/>
<text x="210.86" y="507.6" font-size="8.3" text-anchor="end" textLength="37.3" lengthAdjust="spacingAndGlyphs" fill="#2b2728" transform="rotate(-90 210.86 507.6)">Fibroblast</text>
<path d="M214.52 503.3V457.52q0 -1 1 -1h5.25q1 0 1 1V503.3z" fill="#f8b820" stroke="#b28417" stroke-width="0.5"/>
<path d="M218.15 454.09V458.95M215.65 454.09h5M215.65 458.95h5" stroke="#3e2e08" stroke-width="0.9" fill="none"/>
<text x="220.05" y="507.6" font-size="8.3" text-anchor="end" textLength="55.8" lengthAdjust="spacingAndGlyphs" fill="#2b2728" transform="rotate(-90 220.05 507.6)">Cardiomyocyte</text>
<path d="M223.7 503.3V449.62q0 -1 1 -1h5.25q1 0 1 1V503.3z" fill="#a08820" stroke="#736117" stroke-width="0.5"/>
<path d="M227.32 448.32V448.92M224.82 448.32h5M224.82 448.92h5" stroke="#282208" stroke-width="0.9" fill="none"/>
<text x="229.22" y="507.6" font-size="8.3" text-anchor="end" textLength="37.8" lengthAdjust="spacingAndGlyphs" fill="#2b2728" transform="rotate(-90 229.22 507.6)">Adipocyte</text>
<path d="M232.89 503.3V438.08q0 -1 1 -1h5.25q1 0 1 1V503.3z" fill="#7a6418" stroke="#574811" stroke-width="0.5"/>
<path d="M236.51 436.78V437.38M234.01 436.78h5M234.01 437.38h5" stroke="#1e1906" stroke-width="0.9" fill="none"/>
<text x="238.41" y="507.6" font-size="8.3" text-anchor="end" textLength="43.5" lengthAdjust="spacingAndGlyphs" fill="#2b2728" transform="rotate(-90 238.41 507.6)">Hepatocyte</text>
<path d="M242.07 503.3V469.67q0 -1 1 -1h5.25q1 0 1 1V503.3z" fill="#fde4a0" stroke="#f0d898" stroke-width="0.5"/>
<path d="M245.69 466.85V470.49M243.19 466.85h5M243.19 470.49h5" stroke="#2b3552" stroke-width="0.9" fill="none"/>
<text x="247.59" y="507.6" font-size="8.3" text-anchor="end" textLength="84.3" lengthAdjust="spacingAndGlyphs" fill="#2b2728" transform="rotate(-90 247.59 507.6)">Intestinal epithelial cell</text>
<path d="M251.26 503.3V469.06q0 -1 1 -1h5.25q1 0 1 1V503.3z" fill="#fde4a0" stroke="#f0d898" stroke-width="0.5"/>
<path d="M254.88 466.54V469.58M252.38 466.54h5M252.38 469.58h5" stroke="#2b3552" stroke-width="0.9" fill="none"/>
<text x="256.78" y="507.6" font-size="8.3" text-anchor="end" textLength="90.3" lengthAdjust="spacingAndGlyphs" fill="#2b2728" transform="rotate(-90 256.78 507.6)">Intestinal smooth muscle</text>
<path d="M260.44 503.3V462.99q0 -1 1 -1h5.25q1 0 1 1V503.3z" fill="#f08018" stroke="#ac5c11" stroke-width="0.5"/>
<path d="M264.06 457.43V466.55M261.56 457.43h5M261.56 466.55h5" stroke="#3c2006" stroke-width="0.9" fill="none"/>
<text x="265.96" y="507.6" font-size="8.3" text-anchor="end" textLength="26.6" lengthAdjust="spacingAndGlyphs" fill="#2b2728" transform="rotate(-90 265.96 507.6)">Neuron</text>
<line x1="39.75" y1="427.9" x2="50.6" y2="427.9" stroke="#666" stroke-width="1.1"/>
<line x1="53.1" y1="427.9" x2="64.1" y2="427.9" stroke="#666" stroke-width="1.1"/>
<text x="45.0" y="428.2" font-size="8" text-anchor="middle" font-weight="bold" fill="#3a3a3a">*</text>
<text x="58.6" y="428.2" font-size="8" text-anchor="middle" textLength="10" lengthAdjust="spacingAndGlyphs" font-weight="bold" fill="#3a3a3a">***</text>
<path d="M283.3 503.3V451.75q0 -1 1 -1h5.25q1 0 1 1V503.3z" fill="#f28518" stroke="#ae5f11" stroke-width="0.5"/>
<path d="M286.93 449.75V451.75M284.43 449.75h5M284.43 451.75h5" stroke="#3c2106" stroke-width="0.9" fill="none"/>
<text x="288.83" y="507.6" font-size="8.3" text-anchor="end" textLength="36.8" lengthAdjust="spacingAndGlyphs" fill="#2b2728" transform="rotate(-90 288.83 507.6)">Filopodial</text>
<path d="M292.49 503.3V455.25q0 -1 1 -1h5.25q1 0 1 1V503.3z" fill="#e8463c" stroke="#a7322b" stroke-width="0.5"/>
<path d="M296.12 453.75V454.75M293.62 453.75h5M293.62 454.75h5" stroke="#3a110f" stroke-width="0.9" fill="none"/>
<text x="298.02" y="507.6" font-size="8.3" text-anchor="end" textLength="46.3" lengthAdjust="spacingAndGlyphs" fill="#2b2728" transform="rotate(-90 298.02 507.6)">Aggregative</text>
<path d="M301.67 503.3V449.5q0 -1 1 -1h5.25q1 0 1 1V503.3z" fill="#c4161c" stroke="#8d0f14" stroke-width="0.5"/>
<path d="M305.3 448.1V448.9M302.8 448.1h5M302.8 448.9h5" stroke="#310507" stroke-width="0.9" fill="none"/>
<text x="307.2" y="507.6" font-size="8.3" text-anchor="end" textLength="21.8" lengthAdjust="spacingAndGlyphs" fill="#2b2728" transform="rotate(-90 307.2 507.6)">Cystic</text>
<path d="M310.86 503.3V449.75q0 -1 1 -1h5.25q1 0 1 1V503.3z" fill="#5b2d8e" stroke="#412066" stroke-width="0.5"/>
<path d="M314.49 448.35V449.15M311.99 448.35h5M311.99 449.15h5" stroke="#160b23" stroke-width="0.9" fill="none"/>
<text x="316.39" y="507.6" font-size="8.3" text-anchor="end" textLength="46.5" lengthAdjust="spacingAndGlyphs" fill="#2b2728" transform="rotate(-90 316.39 507.6)">Macrophage</text>
<path d="M320.04 503.3V459.5q0 -1 1 -1h5.25q1 0 1 1V503.3z" fill="#5b2d8e" stroke="#412066" stroke-width="0.5"/>
<path d="M323.67 458.1V458.9M321.17 458.1h5M321.17 458.9h5" stroke="#160b23" stroke-width="0.9" fill="none"/>
<text x="325.57" y="507.6" font-size="8.3" text-anchor="end" textLength="49.7" lengthAdjust="spacingAndGlyphs" fill="#2b2728" transform="rotate(-90 325.57 507.6)">Monocyte BM</text>
<path d="M329.23 503.3V459.5q0 -1 1 -1h5.25q1 0 1 1V503.3z" fill="#6a3098" stroke="#4c226d" stroke-width="0.5"/>
<path d="M332.86 458.1V458.9M330.36 458.1h5M330.36 458.9h5" stroke="#1a0c26" stroke-width="0.9" fill="none"/>
<text x="334.76" y="507.6" font-size="8.3" text-anchor="end" textLength="48.9" lengthAdjust="spacingAndGlyphs" fill="#2b2728" transform="rotate(-90 334.76 507.6)">Monocyte PB</text>
<path d="M338.41 503.3V470.5q0 -1 1 -1h5.25q1 0 1 1V503.3z" fill="#8a3a9c" stroke="#632970" stroke-width="0.5"/>
<path d="M342.04 469.1V469.9M339.54 469.1h5M339.54 469.9h5" stroke="#220e27" stroke-width="0.9" fill="none"/>
<text x="343.94" y="507.6" font-size="8.3" text-anchor="end" textLength="53.8" lengthAdjust="spacingAndGlyphs" fill="#2b2728" transform="rotate(-90 343.94 507.6)">Neutrophil BM</text>
<path d="M347.6 503.3V467.25q0 -1 1 -1h5.25q1 0 1 1V503.3z" fill="#8a3a9c" stroke="#632970" stroke-width="0.5"/>
<path d="M351.23 465.75V466.75M348.73 465.75h5M348.73 466.75h5" stroke="#220e27" stroke-width="0.9" fill="none"/>
<text x="353.13" y="507.6" font-size="8.3" text-anchor="end" textLength="52.2" lengthAdjust="spacingAndGlyphs" fill="#2b2728" transform="rotate(-90 353.13 507.6)">Neutrophil PB</text>
<path d="M356.78 503.3V463q0 -1 1 -1h5.25q1 0 1 1V503.3z" fill="#9a9a9a" stroke="#6e6e6e" stroke-width="0.5"/>
<path d="M360.4 461.0V463.0M357.9 461.0h5M357.9 463.0h5" stroke="#262626" stroke-width="0.9" fill="none"/>
<text x="362.3" y="507.6" font-size="8.3" text-anchor="end" textLength="13.8" lengthAdjust="spacingAndGlyphs" fill="#2b2728" transform="rotate(-90 362.3 507.6)">LSK</text>
<path d="M365.97 503.3V473q0 -1 1 -1h5.25q1 0 1 1V503.3z" fill="#1f6fb8" stroke="#164f84" stroke-width="0.5"/>
<path d="M369.6 471.6V472.4M367.1 471.6h5M367.1 472.4h5" stroke="#071b2e" stroke-width="0.9" fill="none"/>
<text x="371.5" y="507.6" font-size="8.3" text-anchor="end" textLength="22.6" lengthAdjust="spacingAndGlyphs" fill="#2b2728" transform="rotate(-90 371.5 507.6)">CD4 T</text>
<path d="M375.15 503.3V473.25q0 -1 1 -1h5.25q1 0 1 1V503.3z" fill="#1f6fb8" stroke="#164f84" stroke-width="0.5"/>
<path d="M378.77 471.85V472.65M376.27 471.85h5M376.27 472.65h5" stroke="#071b2e" stroke-width="0.9" fill="none"/>
<text x="380.67" y="507.6" font-size="8.3" text-anchor="end" textLength="22.6" lengthAdjust="spacingAndGlyphs" fill="#2b2728" transform="rotate(-90 380.67 507.6)">CD8 T</text>
<path d="M384.34 503.3V467.25q0 -1 1 -1h5.25q1 0 1 1V503.3z" fill="#c8601c" stroke="#904514" stroke-width="0.5"/>
<path d="M387.96 465.25V467.25M385.46 465.25h5M385.46 467.25h5" stroke="#321807" stroke-width="0.9" fill="none"/>
<text x="389.86" y="507.6" font-size="8.3" text-anchor="end" textLength="40.8" lengthAdjust="spacingAndGlyphs" fill="#2b2728" transform="rotate(-90 389.86 507.6)">Follicular B</text>
<path d="M393.52 503.3V466.75q0 -1 1 -1h5.25q1 0 1 1V503.3z" fill="#c8601c" stroke="#904514" stroke-width="0.5"/>
<path d="M397.14 465.35V466.15M394.64 465.35h5M394.64 466.15h5" stroke="#321807" stroke-width="0.9" fill="none"/>
<text x="399.04" y="507.6" font-size="8.3" text-anchor="end" textLength="60.3" lengthAdjust="spacingAndGlyphs" fill="#2b2728" transform="rotate(-90 399.04 507.6)">Marginal zone B</text>
<path d="M402.71 503.3V469.5q0 -1 1 -1h5.25q1 0 1 1V503.3z" fill="#c8601c" stroke="#904514" stroke-width="0.5"/>
<path d="M406.33 468.1V468.9M403.83 468.1h5M403.83 468.9h5" stroke="#321807" stroke-width="0.9" fill="none"/>
<text x="408.23" y="507.6" font-size="8.3" text-anchor="end" textLength="67.3" lengthAdjust="spacingAndGlyphs" fill="#2b2728" transform="rotate(-90 408.23 507.6)">Germinal center B</text>
<path d="M411.89 503.3V462q0 -1 1 -1h5.25q1 0 1 1V503.3z" fill="#b8901c" stroke="#846714" stroke-width="0.5"/>
<path d="M415.51 460.6V461.4M413.01 460.6h5M413.01 461.4h5" stroke="#2e2407" stroke-width="0.9" fill="none"/>
<text x="417.41" y="507.6" font-size="8.3" text-anchor="end" textLength="56.5" lengthAdjust="spacingAndGlyphs" fill="#2b2728" transform="rotate(-90 417.41 507.6)">Megakaryocyte</text>
<path d="M421.08 503.3V472.75q0 -1 1 -1h5.25q1 0 1 1V503.3z" fill="#e8606a" stroke="#a7454c" stroke-width="0.5"/>
<path d="M424.7 471.35V472.15M422.2 471.35h5M422.2 472.15h5" stroke="#3a181a" stroke-width="0.9" fill="none"/>
<text x="426.6" y="507.6" font-size="8.3" text-anchor="end" textLength="23.9" lengthAdjust="spacingAndGlyphs" fill="#2b2728" transform="rotate(-90 426.6 507.6)">CFU-E</text>
<path d="M430.26 503.3V476.5q0 -1 1 -1h5.25q1 0 1 1V503.3z" fill="#e8606a" stroke="#a7454c" stroke-width="0.5"/>
<path d="M433.88 473.8V477.2M431.38 473.8h5M431.38 477.2h5" stroke="#3a181a" stroke-width="0.9" fill="none"/>
<text x="435.78" y="507.6" font-size="8.3" text-anchor="end" textLength="45.3" lengthAdjust="spacingAndGlyphs" fill="#2b2728" transform="rotate(-90 435.78 507.6)">Erythroblast</text>
<path d="M439.45 503.3V461.75q0 -1 1 -1h5.25q1 0 1 1V503.3z" fill="#000000" stroke="#000000" stroke-width="0.5"/>
<path d="M443.07 460.15V461.35M440.57 460.15h5M440.57 461.35h5" stroke="#000" stroke-width="0.9" fill="none"/>
<text x="444.97" y="507.6" font-size="8.3" text-anchor="end" textLength="13.9" lengthAdjust="spacingAndGlyphs" fill="#2b2728" transform="rotate(-90 444.97 507.6)">ESC</text>
<path d="M448.63 503.3V465q0 -1 1 -1h5.25q1 0 1 1V503.3z" fill="#fcd56a" stroke="#efca64" stroke-width="0.5"/>
<path d="M452.25 462.7V465.3M449.75 462.7h5M449.75 465.3h5" stroke="#3f351a" stroke-width="0.9" fill="none"/>
<text x="454.15" y="507.6" font-size="8.3" text-anchor="end" textLength="37.3" lengthAdjust="spacingAndGlyphs" fill="#2b2728" transform="rotate(-90 454.15 507.6)">Fibroblast</text>
<path d="M457.82 503.3V470.5q0 -1 1 -1h5.25q1 0 1 1V503.3z" fill="#f8b820" stroke="#b28417" stroke-width="0.5"/>
<path d="M461.44 469.0V470.0M458.94 469.0h5M458.94 470.0h5" stroke="#3e2e08" stroke-width="0.9" fill="none"/>
<text x="463.34" y="507.6" font-size="8.3" text-anchor="end" textLength="55.8" lengthAdjust="spacingAndGlyphs" fill="#2b2728" transform="rotate(-90 463.34 507.6)">Cardiomyocyte</text>
<path d="M467.0 503.3V471.75q0 -1 1 -1h5.25q1 0 1 1V503.3z" fill="#a08820" stroke="#736117" stroke-width="0.5"/>
<path d="M470.62 470.35V471.15M468.12 470.35h5M468.12 471.15h5" stroke="#282208" stroke-width="0.9" fill="none"/>
<text x="472.52" y="507.6" font-size="8.3" text-anchor="end" textLength="37.8" lengthAdjust="spacingAndGlyphs" fill="#2b2728" transform="rotate(-90 472.52 507.6)">Adipocyte</text>
<path d="M476.19 503.3V440.25q0 -1 1 -1h5.25q1 0 1 1V503.3z" fill="#7a6418" stroke="#574811" stroke-width="0.5"/>
<path d="M479.81 438.35V440.15M477.31 438.35h5M477.31 440.15h5" stroke="#1e1906" stroke-width="0.9" fill="none"/>
<text x="481.71" y="507.6" font-size="8.3" text-anchor="end" textLength="43.5" lengthAdjust="spacingAndGlyphs" fill="#2b2728" transform="rotate(-90 481.71 507.6)">Hepatocyte</text>
<path d="M485.37 503.3V488.5q0 -1 1 -1h5.25q1 0 1 1V503.3z" fill="#fde4a0" stroke="#f0d898" stroke-width="0.5"/>
<path d="M489.0 478.8V496.2M486.5 478.8h5M486.5 496.2h5" stroke="#2b3552" stroke-width="0.9" fill="none"/>
<text x="490.9" y="507.6" font-size="8.3" text-anchor="end" textLength="84.3" lengthAdjust="spacingAndGlyphs" fill="#2b2728" transform="rotate(-90 490.9 507.6)">Intestinal epithelial cell</text>
<path d="M494.56 503.3V468.5q0 -1 1 -1h5.25q1 0 1 1V503.3z" fill="#fde4a0" stroke="#f0d898" stroke-width="0.5"/>
<path d="M498.19 461.3V473.7M495.69 461.3h5M495.69 473.7h5" stroke="#2b3552" stroke-width="0.9" fill="none"/>
<text x="500.09" y="507.6" font-size="8.3" text-anchor="end" textLength="90.3" lengthAdjust="spacingAndGlyphs" fill="#2b2728" transform="rotate(-90 500.09 507.6)">Intestinal smooth muscle</text>
<path d="M503.74 503.3V458.5q0 -1 1 -1h5.25q1 0 1 1V503.3z" fill="#f08018" stroke="#ac5c11" stroke-width="0.5"/>
<path d="M507.37 453.8V461.2M504.87 453.8h5M504.87 461.2h5" stroke="#3c2006" stroke-width="0.9" fill="none"/>
<text x="509.27" y="507.6" font-size="8.3" text-anchor="end" textLength="26.6" lengthAdjust="spacingAndGlyphs" fill="#2b2728" transform="rotate(-90 509.27 507.6)">Neuron</text>
<line x1="283.05" y1="443.8" x2="293.9" y2="443.8" stroke="#666" stroke-width="1.1"/>
<line x1="296.4" y1="443.8" x2="307.4" y2="443.8" stroke="#666" stroke-width="1.1"/>
<text x="288.3" y="444.1" font-size="8" text-anchor="middle" font-weight="bold" fill="#3a3a3a">*</text>
<text x="301.9" y="444.1" font-size="8" text-anchor="middle" textLength="10" lengthAdjust="spacingAndGlyphs" font-weight="bold" fill="#3a3a3a">***</text>
<line x1="32.4" y1="415" x2="32.4" y2="503.90000000000003" stroke="#000" stroke-width="1.1"/>
<line x1="32.2" y1="503.3" x2="514.3" y2="503.3" stroke="#000" stroke-width="1.2"/>
<line x1="28.3" y1="503.3" x2="32.4" y2="503.3" stroke="#000" stroke-width="0.9"/>
<text x="25.8" y="506.3" font-size="8.6" text-anchor="end" textLength="4.7" lengthAdjust="spacingAndGlyphs" fill="#3a3a3a">0</text>
<line x1="28.3" y1="491.15" x2="32.4" y2="491.15" stroke="#000" stroke-width="0.9"/>
<text x="25.8" y="494.15" font-size="8.6" text-anchor="end" textLength="4.7" lengthAdjust="spacingAndGlyphs" fill="#3a3a3a">2</text>
<line x1="28.3" y1="479.0" x2="32.4" y2="479.0" stroke="#000" stroke-width="0.9"/>
<text x="25.8" y="482.0" font-size="8.6" text-anchor="end" textLength="4.7" lengthAdjust="spacingAndGlyphs" fill="#3a3a3a">4</text>
<line x1="28.3" y1="466.85" x2="32.4" y2="466.85" stroke="#000" stroke-width="0.9"/>
<text x="25.8" y="469.85" font-size="8.6" text-anchor="end" textLength="4.7" lengthAdjust="spacingAndGlyphs" fill="#3a3a3a">6</text>
<line x1="28.3" y1="454.7" x2="32.4" y2="454.7" stroke="#000" stroke-width="0.9"/>
<text x="25.8" y="457.7" font-size="8.6" text-anchor="end" textLength="4.7" lengthAdjust="spacingAndGlyphs" fill="#3a3a3a">8</text>
<line x1="28.3" y1="442.55" x2="32.4" y2="442.55" stroke="#000" stroke-width="0.9"/>
<text x="25.8" y="445.55" font-size="8.6" text-anchor="end" textLength="8.9" lengthAdjust="spacingAndGlyphs" fill="#3a3a3a">10</text>
<line x1="28.3" y1="430.4" x2="32.4" y2="430.4" stroke="#000" stroke-width="0.9"/>
<text x="25.8" y="433.4" font-size="8.6" text-anchor="end" textLength="8.9" lengthAdjust="spacingAndGlyphs" fill="#3a3a3a">12</text>
<line x1="28.3" y1="418.25" x2="32.4" y2="418.25" stroke="#000" stroke-width="0.9"/>
<text x="25.8" y="421.25" font-size="8.6" text-anchor="end" textLength="8.9" lengthAdjust="spacingAndGlyphs" fill="#3a3a3a">14</text>
<text x="10" y="459.4" font-size="8.7" text-anchor="middle" textLength="51" lengthAdjust="spacingAndGlyphs" fill="#2b2728" transform="rotate(-90 10 459.4)">log2 (TPM+1)</text>
<text x="138.75" y="412.3" font-size="9.2" textLength="31" lengthAdjust="spacingAndGlyphs" fill="#2b2728">CEBPα</text>
<text x="373.1" y="411.9" font-size="9.2" textLength="41.3" lengthAdjust="spacingAndGlyphs" fill="#2b2728">PLA2G15</text>
<line x1="37.7" y1="603.85" x2="63.85" y2="603.85" stroke="#555" stroke-width="1.15"/>
<line x1="67.1" y1="603.85" x2="270.5" y2="603.85" stroke="#555" stroke-width="1.15"/>
<text x="28.65" y="613.6" font-size="7.6" textLength="43.65" lengthAdjust="spacingAndGlyphs" fill="#2b2728">Capsaspora</text>
<text x="168.5" y="613.6" font-size="7.6" text-anchor="middle" textLength="24.5" lengthAdjust="spacingAndGlyphs" fill="#2b2728">Mouse</text>
<line x1="281.0" y1="603.85" x2="307.15" y2="603.85" stroke="#555" stroke-width="1.15"/>
<line x1="310.4" y1="603.85" x2="514.8" y2="603.85" stroke="#555" stroke-width="1.15"/>
<text x="272.55" y="613.6" font-size="7.6" textLength="43.65" lengthAdjust="spacingAndGlyphs" fill="#2b2728">Capsaspora</text>
<text x="411.8" y="613.6" font-size="7.6" text-anchor="middle" textLength="24.5" lengthAdjust="spacingAndGlyphs" fill="#2b2728">Mouse</text>
</svg>
</body>
</html>
